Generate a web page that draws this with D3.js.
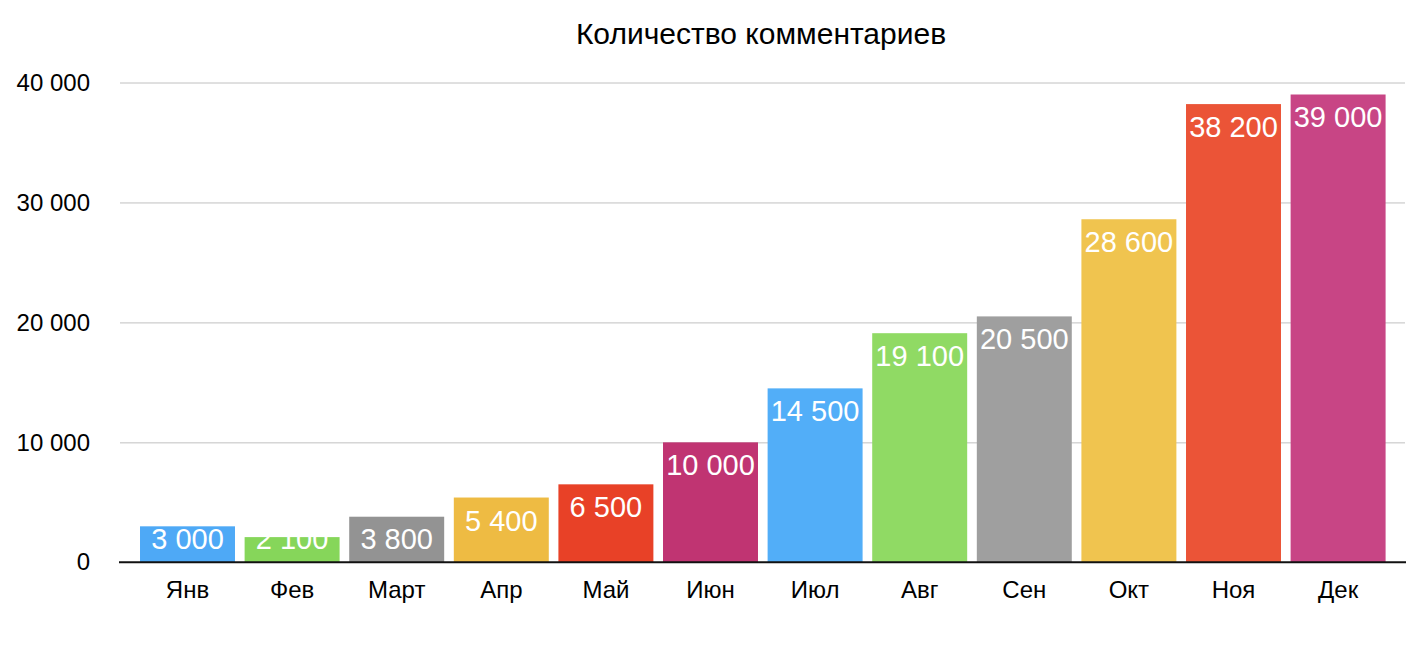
<!DOCTYPE html>
<html lang="ru">
<head>
<meta charset="UTF-8">
<script src="https://cdnjs.cloudflare.com/ajax/libs/d3/7.8.5/d3.min.js"></script>
<title>Количество комментариев</title>
<style>
  body { margin: 0; background: #fff; }
  svg { font-family: "Liberation Sans", Arial, sans-serif; }
</style>
</head>
<body>
<svg id="chart" width="1423" height="646"></svg>
<script>
// data
var months = ["Янв", "Фев", "Март", "Апр", "Май", "Июн", "Июл", "Авг", "Сен", "Окт", "Ноя", "Дек"];
var comments = [3000, 2100, 3800, 5400, 6500, 10000, 14500, 19100, 20500, 28600, 38200, 39000];
var barColors = ["#4ea9f6", "#86d65a", "#939393", "#eebb43", "#e84127", "#c03472",
                 "#52aef8", "#90da64", "#9f9f9f", "#f0c44f", "#eb5437", "#c84585"];
var yTicks = [0, 10000, 20000, 30000, 40000];
var title = "Количество комментариев";

var svg = d3.select("#chart");

var x = d3.scaleBand().domain(months).range([135.2, 1390.4]).paddingInner(0.092).paddingOuter(0.046);
var y = d3.scaleLinear().domain([0, 40000]).range([562.3, 82.5]);

var fmt = function (v) { return d3.format(",")(v).replace(/,/g, " "); };

// gridlines + y labels
var yAxis = d3.axisLeft(y).tickValues(yTicks).tickSize(-(1405 - 120)).tickFormat(fmt).tickPadding(30);
var yG = svg.append("g").attr("transform", "translate(120,0)").call(yAxis);
yG.select(".domain").remove();
yG.selectAll(".tick line").attr("stroke", "#c0c0c0").attr("stroke-width", 1);
yG.selectAll(".tick text").attr("fill", "#000").style("font-size", "24px").attr("font-family", null);
yG.selectAll(".tick").filter(function (d) { return d === 0; }).select("line").remove();

// bars
svg.append("g").selectAll("rect")
  .data(comments)
  .join("rect")
  .attr("x", function (d, i) { return x(months[i]); })
  .attr("y", function (d) { return y(d); })
  .attr("width", x.bandwidth())
  .attr("height", function (d) { return y(0) - y(d); })
  .attr("fill", function (d, i) { return barColors[i]; });

// value labels (kept above the baseline for short bars)
svg.append("g").selectAll("text")
  .data(comments)
  .join("text")
  .attr("x", function (d, i) { return x(months[i]) + x.bandwidth() / 2; })
  .attr("y", function (d) { return Math.min(y(d) + 33, y(0) - 13); })
  .attr("text-anchor", "middle")
  .attr("fill", "#fff")
  .style("font-size", "29px")
  .text(fmt);

// x axis
var xAxis = d3.axisBottom(x).tickSize(0).tickPadding(19);
var xG = svg.append("g").attr("transform", "translate(0," + y(0) + ")").call(xAxis);
xG.select(".domain").remove();
xG.selectAll(".tick text").attr("fill", "#000").style("font-size", "24px").attr("font-family", null);
svg.append("line")
  .attr("x1", 119).attr("x2", 1406)
  .attr("y1", y(0)).attr("y2", y(0))
  .attr("stroke", "#111").attr("stroke-width", 2);

// title
svg.append("text")
  .attr("x", 761).attr("y", 44)
  .attr("text-anchor", "middle")
  .style("font-size", "30px")
  .text(title);
</script>
</body>
</html>
